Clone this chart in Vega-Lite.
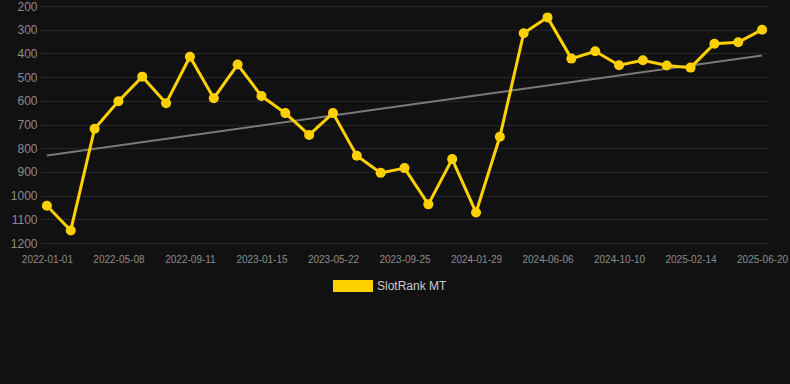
{
  "$schema": "https://vega.github.io/schema/vega-lite/v6.json",
  "width": 729,
  "height": 237,
  "autosize": {"type": "none"},
  "padding": {"left": 40, "top": 6, "right": 21, "bottom": 141},
  "background": "#111111",
  "config": {
    "view": {"stroke": null},
    "font": "Liberation Sans",
    "axis": {
      "gridColor": "#262626",
      "gridWidth": 1,
      "domain": false,
      "ticks": false,
      "labelColor": "#8c8c8c",
      "labelFont": "Liberation Sans",
      "labelOverlap": false
    }
  },
  "datasets": {
    "rank": [
      {"date": "2022-01-01", "rank": 1043, "series": "SlotRank MT"},
      {"date": "2022-02-12", "rank": 1147, "series": "SlotRank MT"},
      {"date": "2022-03-26", "rank": 718, "series": "SlotRank MT"},
      {"date": "2022-05-08", "rank": 602, "series": "SlotRank MT"},
      {"date": "2022-06-19", "rank": 498, "series": "SlotRank MT"},
      {"date": "2022-07-31", "rank": 610, "series": "SlotRank MT"},
      {"date": "2022-09-11", "rank": 414, "series": "SlotRank MT"},
      {"date": "2022-10-23", "rank": 589, "series": "SlotRank MT"},
      {"date": "2022-12-04", "rank": 447, "series": "SlotRank MT"},
      {"date": "2023-01-15", "rank": 580, "series": "SlotRank MT"},
      {"date": "2023-02-26", "rank": 652, "series": "SlotRank MT"},
      {"date": "2023-04-09", "rank": 744, "series": "SlotRank MT"},
      {"date": "2023-05-22", "rank": 652, "series": "SlotRank MT"},
      {"date": "2023-07-03", "rank": 832, "series": "SlotRank MT"},
      {"date": "2023-08-14", "rank": 904, "series": "SlotRank MT"},
      {"date": "2023-09-25", "rank": 884, "series": "SlotRank MT"},
      {"date": "2023-11-06", "rank": 1037, "series": "SlotRank MT"},
      {"date": "2023-12-18", "rank": 846, "series": "SlotRank MT"},
      {"date": "2024-01-29", "rank": 1071, "series": "SlotRank MT"},
      {"date": "2024-03-12", "rank": 752, "series": "SlotRank MT"},
      {"date": "2024-04-24", "rank": 315, "series": "SlotRank MT"},
      {"date": "2024-06-06", "rank": 248, "series": "SlotRank MT"},
      {"date": "2024-07-18", "rank": 422, "series": "SlotRank MT"},
      {"date": "2024-08-29", "rank": 391, "series": "SlotRank MT"},
      {"date": "2024-10-10", "rank": 450, "series": "SlotRank MT"},
      {"date": "2024-11-21", "rank": 429, "series": "SlotRank MT"},
      {"date": "2025-01-02", "rank": 451, "series": "SlotRank MT"},
      {"date": "2025-02-14", "rank": 460, "series": "SlotRank MT"},
      {"date": "2025-03-28", "rank": 359, "series": "SlotRank MT"},
      {"date": "2025-05-09", "rank": 353, "series": "SlotRank MT"},
      {"date": "2025-06-20", "rank": 300, "series": "SlotRank MT"}
    ],
    "trend": [
      {"date": "2022-01-01", "rank": 831},
      {"date": "2025-06-20", "rank": 409}
    ]
  },
  "encoding": {
    "x": {
      "field": "date",
      "type": "ordinal",
      "sort": "ascending",
      "scale": {"type": "point", "padding": 0.29},
      "axis": {
        "title": null,
        "labelAngle": 0,
        "labelAlign": "center",
        "labelBaseline": "top",
        "labelFontSize": 10,
        "labelPadding": 11,
        "values": ["2022-01-01", "2022-05-08", "2022-09-11", "2023-01-15", "2023-05-22", "2023-09-25", "2024-01-29", "2024-06-06", "2024-10-10", "2025-02-14", "2025-06-20"]
      }
    },
    "y": {
      "field": "rank",
      "type": "quantitative",
      "scale": {"domain": [200, 1200], "reverse": true, "nice": false, "zero": false},
      "axis": {"title": null, "format": "d", "values": [200, 300, 400, 500, 600, 700, 800, 900, 1000, 1100, 1200], "labelFontSize": 12, "labelPadding": 3, "labelOverlap": false}
    }
  },
  "layer": [
    {
      "data": {"name": "trend"},
      "mark": {"type": "line", "color": "#7a7a7a", "strokeWidth": 2}
    },
    {
      "data": {"name": "rank"},
      "mark": {"type": "line", "strokeWidth": 3, "point": {"size": 100, "filled": true, "opacity": 1}},
      "encoding": {
        "color": {
          "field": "series",
          "type": "nominal",
          "scale": {"range": ["#FFD000"]},
          "legend": {
            "title": null,
            "orient": "none",
            "legendX": 293,
            "legendY": 260,
            "symbolType": "M-1,-0.3H1V0.3H-1Z",
            "symbolSize": 1600,
            "symbolStrokeWidth": 0,
            "labelColor": "#cccccc",
            "labelFontSize": 12,
            "labelFont": "Liberation Sans"
          }
        }
      }
    }
  ]
}
